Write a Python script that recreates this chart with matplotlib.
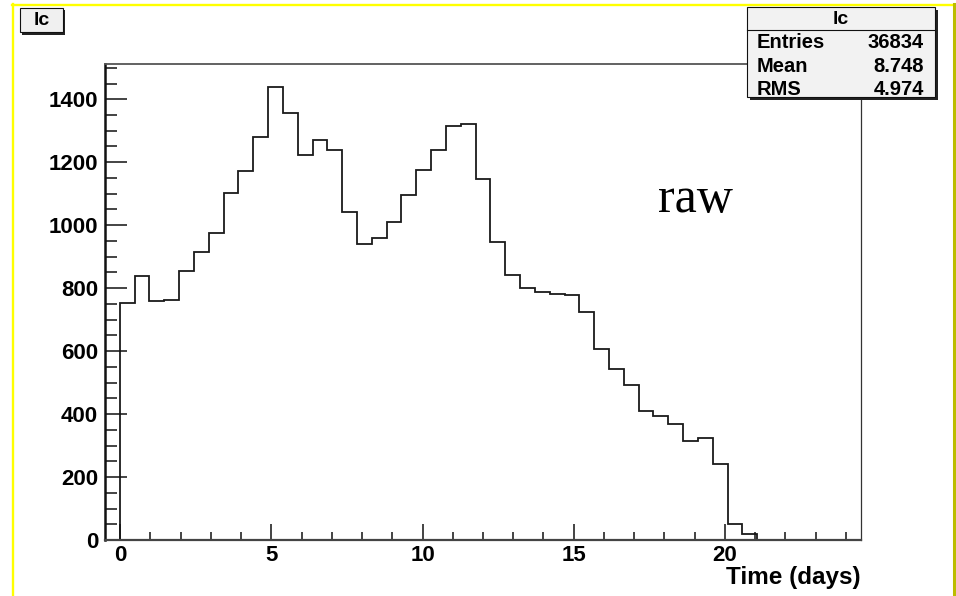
import numpy as np
import matplotlib
matplotlib.use('Agg')
import matplotlib.pyplot as plt
from matplotlib.patches import Rectangle
from matplotlib.lines import Line2D
from matplotlib.ticker import MultipleLocator

plt.rcParams['font.family'] = ['Liberation Sans', 'DejaVu Sans']
plt.rcParams['font.weight'] = 'bold'

W, H = 956, 596

# histogram "lc": 51 bins over [-0.5, 24.5]
x_min, x_max, n_bins = -0.5, 24.5, 51
counts = [0,
          752, 839, 760, 763, 855, 915, 975, 1102, 1172, 1279,
          1440, 1355, 1222, 1271, 1238, 1043, 940, 959, 1011, 1096,
          1175, 1240, 1316, 1320, 1148, 948, 843, 800, 788, 781,
          777, 724, 608, 544, 492, 411, 393, 368, 315, 323,
          240, 51, 20,
          0, 0, 0, 0, 0, 0, 0]
stat_names = ['Entries', 'Mean', 'RMS']
stat_values = ['36834', '8.748', '4.974']
hist_name = 'lc'
x_label = 'Time (days)'
note = 'raw'

edges = np.linspace(x_min, x_max, n_bins + 1)


def fx(x):
    return x / W


def fy(y):
    return 1 - y / H


def box(x0, y0, x1, y1, **kw):
    return Rectangle((fx(x0), fy(y1)), (x1 - x0) / W, (y1 - y0) / H,
                     transform=fig.transFigure, **kw)


fig = plt.figure(figsize=(W / 100, H / 100), dpi=100)
ax = fig.add_axes([fx(105), fy(540), (861 - 105) / W, (540 - 64) / H])

ax.stairs(counts, edges, color='#1a1a1a', lw=1.3, baseline=0)
ax.set_xlim(x_min, x_max)
ax.set_ylim(0, 1512)

ax.xaxis.set_major_locator(MultipleLocator(5))
ax.xaxis.set_minor_locator(MultipleLocator(1))
ax.yaxis.set_major_locator(MultipleLocator(200))
ax.yaxis.set_minor_locator(MultipleLocator(50))
ax.tick_params(which='both', direction='in', top=False, right=False, color='#111')
ax.tick_params(axis='y', which='major', length=15.8, width=1.1, pad=5, labelsize=16)
ax.tick_params(axis='y', which='minor', length=8.6, width=1.1)
ax.tick_params(axis='x', which='major', length=11.5, width=1.1, pad=3.6, labelsize=16)
ax.tick_params(axis='x', which='minor', length=5.8, width=1.1)

ax.spines['left'].set_linewidth(1.8)
ax.spines['left'].set_color('#111')
ax.spines['bottom'].set_linewidth(1.6)
ax.spines['bottom'].set_color('#444')
ax.spines['top'].set_linewidth(1.3)
ax.spines['top'].set_color('#555')
ax.spines['right'].set_linewidth(0.9)
ax.spines['right'].set_color('#333')

fig.text(fx(861), fy(584), x_label, ha='right', va='baseline', fontsize=17.5)
fig.text(fx(658), fy(211.7), note, ha='left', va='baseline', fontsize=36,
         family='Liberation Serif', weight='normal')

# title box
fig.patches.append(box(22, 10.5, 65, 34.5, facecolor='#222', edgecolor='none'))
fig.patches.append(box(20, 8.3, 63, 32.3, facecolor='#f0f0f0', edgecolor='#111', lw=0.8))
fig.text(fx(41.5), fy(20.5), hist_name, ha='center', va='center', fontsize=14)

# stats box
fig.patches.append(box(749.5, 10, 938, 99.5, facecolor='#222', edgecolor='none'))
fig.patches.append(box(746.7, 7.3, 935, 96.7, facecolor='#f2f2f2', edgecolor='#111', lw=0.8))
fig.lines.append(Line2D([fx(746.7), fx(935)], [fy(30), fy(30)],
                        transform=fig.transFigure, color='#111', lw=0.8))
fig.text(fx(840.8), fy(19), hist_name, ha='center', va='center', fontsize=14)
for i, (name, val) in enumerate(zip(stat_names, stat_values)):
    base = 48.3 + i * 23.4
    fig.text(fx(757), fy(base), name, ha='left', va='baseline', fontsize=14.5)
    fig.text(fx(924), fy(base), val, ha='right', va='baseline', fontsize=14.5)

# canvas border
fig.lines.append(Line2D([fx(12.8), fx(12.8)], [fy(H), fy(4)],
                        transform=fig.transFigure, color='#ffff00', lw=1.7))
fig.lines.append(Line2D([fx(12), fx(953)], [fy(5), fy(5)],
                        transform=fig.transFigure, color='#ffff00', lw=1.7))
fig.lines.append(Line2D([fx(953.5), fx(953.5)], [fy(4), fy(H)],
                        transform=fig.transFigure, color='#bcbc00', lw=2.2))

fig.savefig('out.png', dpi=100)
